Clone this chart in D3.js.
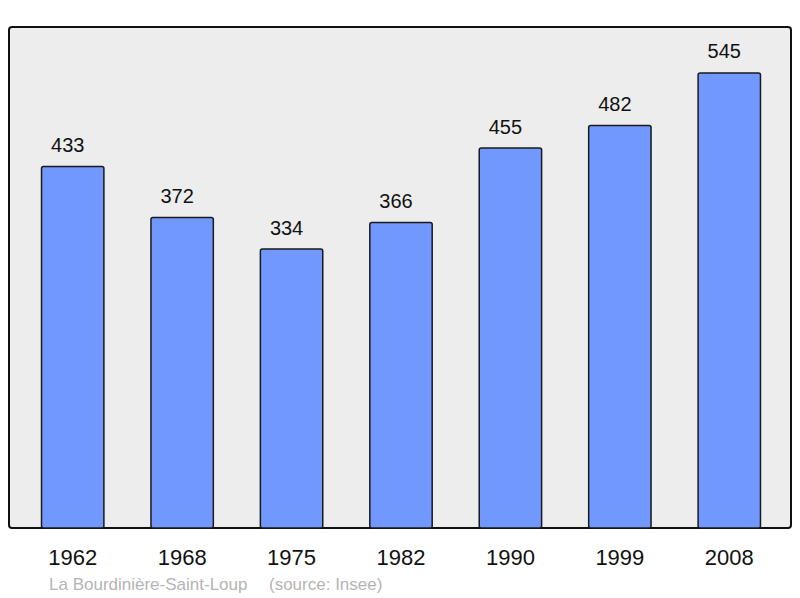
<!DOCTYPE html>
<html>
<head>
<meta charset="utf-8">
<script src="https://cdn.jsdelivr.net/npm/d3@7"></script>
<style>
  body { margin: 0; background: #fff; }
  svg { display: block; font-family: "Liberation Sans", Arial, sans-serif; }
</style>
</head>
<body>
<div id="chart"></div>
<script>
// population by census year
const years = ["1962", "1968", "1975", "1982", "1990", "1999", "2008"];
const population = [433, 372, 334, 366, 455, 482, 545];
const yMax = 600;
const captionName = "La Bourdinière-Saint-Loup";
const captionSource = "(source: Insee)";

const width = 800, height = 598;
const frame = { left: 9, top: 27, right: 791, bottom: 528 };

const svg = d3.select('#chart')
    .append('svg')
    .attr('width', width)
    .attr('height', height);

// plot background
svg.append('rect')
    .attr('x', frame.left)
    .attr('y', frame.top)
    .attr('width', frame.right - frame.left)
    .attr('height', frame.bottom - frame.top)
    .attr('rx', 3)
    .attr('fill', '#ededed')
    .attr('stroke', '#111')
    .attr('stroke-width', 2);

const xScale = d3.scaleBand()
    .domain(years)
    .range([18, 784])
    .paddingInner(0.43)
    .paddingOuter(0.215);

const yScale = d3.scaleLinear()
    .domain([0, yMax])
    .range([frame.bottom, frame.top]);

const data = years.map((y, i) => ({ year: y, value: population[i] }));

// bars
svg.selectAll('rect.bar')
    .data(data)
    .enter().append('rect')
    .attr('class', 'bar')
    .attr('x', d => xScale(d.year))
    .attr('y', d => yScale(d.value))
    .attr('width', xScale.bandwidth())
    .attr('height', d => yScale(0) - yScale(d.value))
    .attr('rx', 2)
    .attr('fill', '#7098ff')
    .attr('stroke', '#1a1a1a')
    .attr('stroke-width', 1.5);

// value labels (sit a little left of bar centre, as in the original)
svg.selectAll('text.val')
    .data(data)
    .enter().append('text')
    .attr('class', 'val')
    .attr('x', d => xScale(d.year) + xScale.bandwidth() / 2 - 5)
    .attr('y', d => yScale(d.value) - 14.5)
    .attr('text-anchor', 'middle')
    .attr('font-size', 20)
    .attr('fill', '#111')
    .text(d => d.value);

// x axis labels
const xAxis = d3.axisBottom(xScale).tickSize(0).tickPadding(0);
const axisG = svg.append('g')
    .attr('transform', `translate(0, ${frame.bottom})`)
    .call(xAxis);
axisG.select('.domain').remove();
axisG.selectAll('text')
    .attr('dy', null)
    .attr('y', 37)
    .attr('font-size', 22)
    .attr('font-family', '"Liberation Sans", Arial, sans-serif')
    .attr('fill', '#111');

// caption
svg.append('text')
    .attr('x', 49)
    .attr('y', 590)
    .attr('font-size', 17)
    .attr('fill', '#b4b4b4')
    .text(captionName);

svg.append('text')
    .attr('x', 269)
    .attr('y', 590)
    .attr('font-size', 17)
    .attr('fill', '#b4b4b4')
    .text(captionSource);
</script>
</body>
</html>
